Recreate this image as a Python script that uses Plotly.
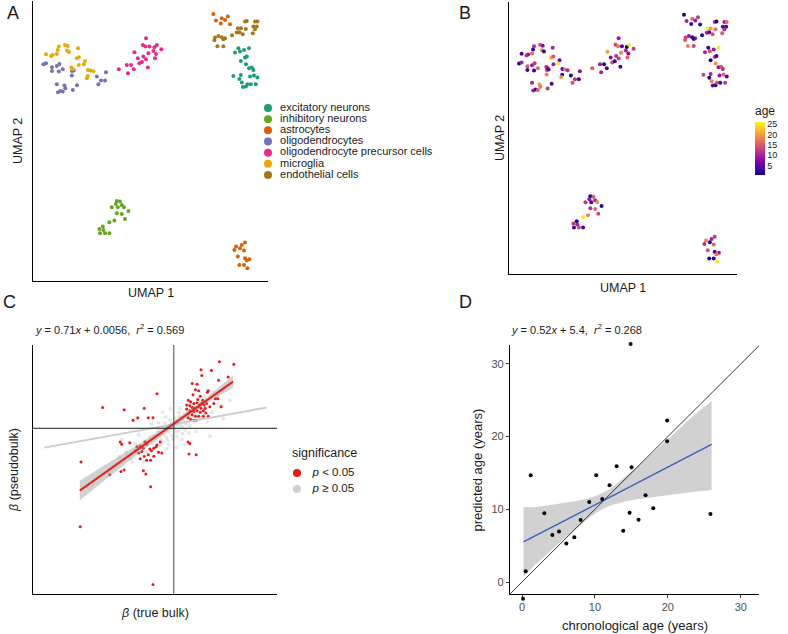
import plotly.graph_objects as go

W, H = 788, 634

# ---- panel A / B : UMAP of cells (same embedding, coloured by type / by age)
cell_types = ['excitatory neurons', 'inhibitory neurons', 'astrocytes', 'oligodendrocytes',
              'oligodendrocyte precursor cells', 'microglia', 'endothelial cells']
cell_colors = ['#1B9E77', '#66A61E', '#D95F02', '#7570B3', '#E7298A', '#E6AB02', '#A6761D']

exc_u1 = [10.10, 10.27, 10.35, 10.55, 10.80, 10.39, 10.60, 10.69, 10.65, 10.80, 10.94, 11.02,
          10.02, 10.32, 10.39, 10.44, 10.64, 10.72, 10.85, 10.89, 11.05, 11.14, 11.22, 10.50]
exc_u2 = [11.42, 11.64, 11.47, 11.55, 11.64, 11.00, 11.17, 11.22, 10.84, 10.64, 10.67, 10.55,
          10.25, 10.10, 10.30, 9.92, 9.72, 9.84, 10.22, 9.84, 10.27, 9.84, 10.17, 9.70]
exc_age = [10, 2, 14, 9, 25, 1, 12, 3, 19, 8, 15, 11, 13, 2, 10, 18, 1, 14, 9, 3, 16, 12, 4, 6]

inh_u1 = [4.19, 4.35, 4.14, 3.94, 4.24, 4.44, 4.55, 4.77, 4.19, 4.44, 4.60, 4.07, 3.82, 3.49,
          3.32, 3.35, 3.60, 3.82, 3.52]
inh_u2 = [4.00, 3.97, 3.85, 3.69, 3.69, 3.80, 3.69, 3.50, 3.39, 3.35, 3.10, 3.02, 2.94, 2.72,
          2.60, 2.39, 2.39, 2.39, 2.55]
inh_age = [1, 15, 9, 12, 3, 10, 19, 2, 11, 16, 13, 18, 25, 1, 12, 3, 14, 4, 10]

ast_u1 = [9.02, 9.15, 9.39, 9.44, 9.60, 9.74, 9.85,
          10.60, 10.44, 10.15, 10.35, 10.55, 10.07, 10.24, 10.60, 10.82, 10.69, 10.32, 10.55, 10.72]
ast_u2 = [13.35, 13.02, 12.87, 13.14, 13.05, 13.22, 12.84,
          1.92, 1.80, 1.72, 1.64, 1.52, 1.55, 1.22, 1.14, 1.09, 1.02, 0.80, 0.80, 0.64]
ast_age = [1, 10, 3, 16, 9, 12, 2,
           12, 10, 18, 2, 16, 11, 14, 3, 9, 17, 1, 2, 25]

oli_u1 = [0.52, 0.65, 0.95, 0.95, 1.19, 1.32, 1.29, 1.49, 1.95, 2.04, 1.94, 3.19, 3.65, 3.40,
          3.60, 3.27, 1.19, 1.57, 1.62, 1.37, 1.25, 1.49, 1.99, 2.20]
oli_u2 = [10.84, 10.89, 10.69, 10.50, 10.75, 10.85, 10.47, 10.59, 10.50, 10.52, 10.27, 10.22,
          10.44, 10.02, 10.02, 9.84, 9.84, 9.77, 9.64, 9.50, 9.44, 9.47, 9.55, 9.79]
oli_age = [1, 10, 15, 3, 9, 12, 2, 16, 13, 5, 18, 1, 8, 11, 3, 14, 10, 20, 17, 2, 9, 15, 12, 4]

opc_u1 = [4.29, 4.69, 4.90, 4.75, 5.04, 5.07, 5.24, 5.32, 5.45, 5.52, 5.49, 5.62, 5.65, 5.82,
          5.77, 5.65, 6.02, 6.07, 6.19, 6.15, 6.10, 5.74, 6.42]
opc_u2 = [10.59, 10.80, 10.80, 10.39, 10.59, 11.44, 11.14, 10.89, 10.95, 11.22, 11.80, 11.72,
          12.14, 11.72, 11.39, 11.09, 11.50, 11.69, 11.80, 11.35, 11.14, 10.67, 11.59]
opc_age = [15, 9, 1, 10, 3, 20, 8, 14, 2, 11, 13, 17, 9, 4, 18, 12, 10, 1, 25, 7, 16, 3, 12]

mic_u1 = [0.65, 0.90, 0.99, 1.19, 1.24, 1.29, 1.60, 1.74, 1.70, 1.80, 2.25, 2.19, 2.29, 2.60,
          2.54, 2.29, 1.92, 2.75, 2.87, 3.02, 2.74, 2.69, 1.99]
mic_u2 = [11.34, 11.25, 11.30, 11.35, 11.55, 11.72, 11.80, 11.75, 11.52, 11.45, 11.64, 11.14,
          11.19, 11.00, 10.84, 10.80, 10.67, 10.55, 10.52, 10.49, 10.25, 10.14, 10.59]
mic_age = [3, 12, 9, 16, 2, 11, 14, 8, 18, 1, 10, 20, 15, 6, 25, 9, 13, 4, 17, 11, 2, 19, 7]

end_u1 = [9.10, 9.07, 9.27, 9.44, 9.60, 9.52, 9.22, 9.52, 9.95, 10.19, 10.24, 10.40, 10.32,
          10.49, 10.60, 10.69, 10.64, 11.02, 10.99, 11.10, 11.22, 11.19, 11.10]
end_u2 = [12.17, 12.04, 12.25, 12.19, 12.14, 12.09, 11.74, 11.74, 12.29, 12.42, 12.64, 12.64,
          12.44, 12.34, 12.97, 13.00, 12.60, 12.72, 12.39, 12.97, 12.97, 12.72, 12.59]
end_age = [12, 15, 9, 1, 11, 3, 18, 13, 2, 10, 25, 20, 5, 14, 12, 1, 17, 4, 15, 9, 16, 3, 11]

umap_range_x = [0, 11.75]
umap_range_y = [0, 14.0]

# ---- panel C : beta true bulk vs pseudobulk
sig_beta_bulk = [0.057, 0.075, 0.034, 0.047, 0.035, 0.056, 0.068, -0.089, -0.062, -0.037, -0.021,
                 -0.045, -0.051, -0.032, -0.026, -0.067, -0.065, -0.055, -0.062, -0.066, -0.080,
                 -0.116, -0.117, -0.026, -0.029, -0.035, -0.038, 0.018, 0.020, 0.028, 0.019,
                 0.043, 0.042, 0.052, 0.055, 0.059, 0.043, 0.037,
                 0.023, 0.029, 0.027, 0.031, 0.024, 0.033, 0.018, 0.021, 0.025, 0.029, 0.035,
                 0.038, 0.020, 0.023, 0.026, 0.031, 0.034, 0.016, 0.020, 0.025, 0.029, 0.033,
                 0.037, 0.018, 0.023, 0.027, 0.031, 0.021, 0.025, 0.016, 0.030, 0.036, 0.041,
                 0.045, 0.050, 0.039, 0.040, 0.028, 0.018, 0.032,
                 -0.046, -0.042, -0.038, -0.034, -0.030, -0.028, -0.025, -0.022, -0.019, -0.015,
                 -0.032, -0.037, -0.044, -0.042, -0.034, -0.029, -0.025, -0.048, -0.040, -0.021,
                 -0.017, -0.036]
sig_beta_pseudo = [0.083, 0.080, 0.073, 0.072, 0.066, 0.060, 0.064, 0.026, 0.023, 0.025, 0.043,
                   0.013, 0.010, 0.013, 0.013, -0.017, -0.020, -0.018, -0.052, -0.054, -0.058,
                   -0.042, -0.123, -0.195, -0.073, -0.057, -0.053, -0.017, -0.019, -0.033, -0.032,
                   0.047, 0.045, 0.037, 0.037, 0.027, 0.015, 0.015,
                   0.056, 0.055, 0.048, 0.047, 0.042, 0.040, 0.035, 0.033, 0.031, 0.032, 0.031,
                   0.029, 0.028, 0.026, 0.025, 0.027, 0.025, 0.024, 0.022, 0.021, 0.022, 0.020,
                   0.022, 0.018, 0.017, 0.015, 0.015, 0.011, 0.010, 0.029, 0.036, 0.035, 0.031,
                   0.027, 0.031, 0.025, 0.019, 0.010, 0.013, 0.029,
                   -0.023, -0.022, -0.025, -0.020, -0.026, -0.028, -0.025, -0.023, -0.030, -0.031,
                   -0.033, -0.035, -0.031, -0.038, -0.040, -0.040, -0.035, -0.028, -0.029, -0.021,
                   -0.017, -0.017]

ns_beta_bulk = [0.000, 0.005, -0.004, 0.008, -0.007, 0.002, -0.003, 0.010, -0.010, 0.006, -0.006,
                0.012, -0.012, 0.003, -0.002, 0.015, -0.015, 0.009, -0.009, 0.014, -0.014, 0.001,
                -0.001, 0.018, -0.018, 0.007, -0.008, 0.011, -0.011, 0.004, -0.005, 0.016, -0.016,
                0.020, -0.020, 0.013, -0.013, 0.022, -0.022, 0.006, -0.007, 0.019, -0.019, 0.025,
                -0.025, 0.017, -0.017, 0.027, -0.026, 0.010, -0.010, 0.030, -0.030, 0.024, -0.024,
                0.033, -0.032, 0.008, -0.009, 0.028, -0.028, 0.036, -0.036, 0.020, -0.020, 0.040,
                -0.040, 0.014, -0.014, 0.042, -0.044, 0.003, -0.004, 0.035, -0.035, 0.048, -0.048,
                0.055, -0.055, 0.060, -0.060, 0.050, -0.052, 0.045, -0.046, 0.062, -0.065, 0.038,
                -0.038, 0.070, -0.068]
ns_beta_pseudo = [0.000, 0.003, -0.002, 0.006, -0.005, -0.004, 0.005, 0.002, -0.001, -0.003, 0.003,
                  0.009, -0.008, 0.008, -0.009, 0.005, -0.006, 0.012, -0.012, -0.002, 0.002, 0.012,
                  -0.013, 0.010, -0.010, 0.015, -0.015, -0.007, 0.007, -0.010, 0.010, 0.014, -0.014,
                  0.003, -0.003, 0.018, -0.017, 0.015, -0.014, 0.020, -0.020, -0.006, 0.007, 0.008,
                  -0.009, 0.022, -0.021, 0.018, -0.018, -0.014, 0.014, 0.012, -0.011, 0.026, -0.024,
                  0.022, -0.020, 0.025, -0.026, -0.004, 0.005, 0.015, -0.016, 0.030, -0.030, 0.025,
                  -0.024, -0.020, 0.020, 0.008, -0.008, -0.024, 0.024, 0.032, -0.030, 0.020, -0.020,
                  0.040, -0.038, 0.028, -0.030, 0.045, -0.042, -0.010, 0.012, 0.012, -0.014, 0.040,
                  -0.042, 0.035, -0.036]

sig_fit = [0.71, 0.0056]          # slope, intercept (significant genes)
all_fit = [0.18, 0.005]           # slope, intercept (all genes)
sig_fit_x = [-0.1175, 0.0741]
all_fit_x = [-0.162, 0.116]
ribbon_x = [-0.1175, -0.09, -0.06, -0.03, 0.0, 0.03, 0.05, 0.0741]
ribbon_lo = [-0.0899, -0.0678, -0.0440, -0.0205, 0.0021, 0.0239, 0.0366, 0.0505]
ribbon_hi = [-0.0657, -0.0488, -0.0300, -0.0109, 0.0091, 0.0299, 0.0456, 0.0659]
beta_range_x = [-0.176, 0.129]
beta_range_y = [-0.207, 0.104]
sig_labels = ['<i>p</i> < 0.05', '<i>p</i> ≥ 0.05']

# ---- panel D : chronological vs predicted age
chron_age = [0.14, 0.5, 1.19, 3.06, 4.16, 5.07, 6.07, 7.17, 8.04, 9.22, 10.18, 11.0, 12.0,
             12.97, 13.88, 14.75, 14.89, 15.02, 15.98, 16.94, 18.0, 19.9, 19.9, 25.84]
pred_age = [-2.3, 1.47, 14.7, 9.45, 6.47, 6.93, 5.28, 6.15, 8.53, 11.0, 14.68, 11.42, 13.3,
            15.92, 7.06, 9.54, 32.75, 15.78, 8.58, 11.93, 10.14, 22.2, 19.36, 9.36]
age_fit = [0.52, 5.4]
age_fit_x = [0.2, 26.0]
band_x = [0.2, 1.5, 3, 4.5, 6, 7.5, 9, 10, 11, 12, 13, 14.5, 16, 17.5, 19, 20.5, 22, 24, 26]
band_lo = [0.7, 2.07, 3.45, 4.81, 6.15, 7.46, 8.68, 9.41, 10.02, 10.48, 10.81, 11.16, 11.42,
           11.64, 11.84, 12.03, 12.21, 12.45, 12.65]
band_hi = [10.3, 10.29, 10.47, 10.67, 10.89, 11.14, 11.48, 11.79, 12.22, 12.80, 13.51, 14.72,
           16.02, 17.36, 18.72, 20.09, 21.47, 23.31, 24.9]
age_range_x = [-1.65, 32.5]
age_range_y = [-1.65, 32.6]
age_ticks = [0, 10, 20, 30]


def px(x):
    return x / W


def py(y):
    return 1 - y / H


FONT = 'Liberation Sans, Arial, sans-serif'
INK = '#1a1a1a'

cells = [
    (exc_u1, exc_u2, exc_age),
    (inh_u1, inh_u2, inh_age),
    (ast_u1, ast_u2, ast_age),
    (oli_u1, oli_u2, oli_age),
    (opc_u1, opc_u2, opc_age),
    (mic_u1, mic_u2, mic_age),
    (end_u1, end_u2, end_age),
]

fig = go.Figure()

# A: cell types
for name, col, (u1, u2, _) in zip(cell_types, cell_colors, cells):
    fig.add_trace(go.Scatter(x=u1, y=u2, mode='markers', name=name, showlegend=False,
                             marker=dict(color=col, size=4), xaxis='x', yaxis='y'))

# legend of A drawn on its own little axis
fig.add_trace(go.Scatter(x=[0] * len(cell_types), y=cell_types, mode='markers+text',
                         text=['  ' + c for c in cell_types], textposition='middle right',
                         textfont=dict(size=11, color=INK), cliponaxis=False, showlegend=False,
                         marker=dict(color=cell_colors, size=8), xaxis='x5', yaxis='y5'))

# B: age
all_u1 = [v for c in cells for v in c[0]]
all_u2 = [v for c in cells for v in c[1]]
all_age = [v for c in cells for v in c[2]]
fig.add_trace(go.Scatter(x=all_u1, y=all_u2, mode='markers', showlegend=False,
                         marker=dict(color=all_age, colorscale='Plasma', cmin=0.5, cmax=26, size=4,
                                     colorbar=dict(x=px(755), xanchor='left', xpad=0,
                                                   y=py(139), yanchor='middle', ypad=0,
                                                   len=72, lenmode='pixels',
                                                   thickness=10, thicknessmode='pixels',
                                                   outlinewidth=0, ticks='',
                                                   tickvals=[5, 10, 15, 20, 25],
                                                   tickfont=dict(size=9, color=INK),
                                                   title=dict(text='age', side='top',
                                                              font=dict(size=12, color=INK)))),
                         xaxis='x2', yaxis='y2'))

# C: betas
fig.add_trace(go.Scatter(x=ns_beta_bulk, y=ns_beta_pseudo, mode='markers', showlegend=False,
                         marker=dict(color='#d4d4d4', size=4, opacity=0.55),
                         xaxis='x3', yaxis='y3'))
fig.add_trace(go.Scatter(x=sig_beta_bulk, y=sig_beta_pseudo, mode='markers', showlegend=False,
                         marker=dict(color='#E41A1C', size=3), cliponaxis=False,
                         xaxis='x3', yaxis='y3'))
fig.add_trace(go.Scatter(x=all_fit_x, y=[all_fit[0] * v + all_fit[1] for v in all_fit_x],
                         mode='lines', showlegend=False, line=dict(color='#cccccc', width=2),
                         xaxis='x3', yaxis='y3'))
fig.add_trace(go.Scatter(x=ribbon_x + ribbon_x[::-1], y=ribbon_hi + ribbon_lo[::-1],
                         fill='toself', mode='lines', line=dict(width=0), showlegend=False,
                         fillcolor='rgba(153,153,153,0.45)', xaxis='x3', yaxis='y3'))
fig.add_trace(go.Scatter(x=sig_fit_x, y=[sig_fit[0] * v + sig_fit[1] for v in sig_fit_x],
                         mode='lines', showlegend=False, line=dict(color='#E3261A', width=2),
                         xaxis='x3', yaxis='y3'))

# legend of C
fig.add_trace(go.Scatter(x=[0, 0], y=sig_labels, mode='markers+text',
                         text=['   ' + s for s in sig_labels], textposition='middle right',
                         textfont=dict(size=11.5, color=INK), cliponaxis=False, showlegend=False,
                         marker=dict(color=['#E41A1C', '#cfcfcf'], size=8),
                         xaxis='x6', yaxis='y6'))

# D: age prediction
fig.add_trace(go.Scatter(x=band_x + band_x[::-1], y=band_hi + band_lo[::-1], fill='toself',
                         mode='lines', line=dict(width=0), showlegend=False,
                         fillcolor='rgba(153,153,153,0.45)', xaxis='x4', yaxis='y4'))
fig.add_trace(go.Scatter(x=age_range_x, y=age_range_x, mode='lines', showlegend=False,
                         line=dict(color='black', width=0.8), xaxis='x4', yaxis='y4'))
fig.add_trace(go.Scatter(x=age_fit_x, y=[age_fit[0] * v + age_fit[1] for v in age_fit_x],
                         mode='lines', showlegend=False, line=dict(color='#3F5FBF', width=1.4),
                         xaxis='x4', yaxis='y4'))

# points of D go on a twin axis pair with the same scale but a few px more room,
# so the two samples just past the axis limits are still drawn (ggplot clip off)
pad = 10
d_x0, d_x1, d_y0, d_y1 = 510, 759, 345, 594
sx = (age_range_x[1] - age_range_x[0]) / (d_x1 - d_x0)
sy = (age_range_y[1] - age_range_y[0]) / (d_y1 - d_y0)
fig.add_trace(go.Scatter(x=chron_age, y=pred_age, mode='markers', showlegend=False,
                         marker=dict(color='black', size=4), cliponaxis=False,
                         xaxis='x7', yaxis='y7'))

blank = dict(showgrid=False, zeroline=False, showticklabels=False, ticks='', showline=False)
frame = dict(showgrid=False, zeroline=False, showticklabels=False, ticks='', showline=True,
             linecolor='black', linewidth=1.3)
age_ax = dict(showgrid=False, zeroline=False, showline=True, linecolor='black', linewidth=1.3,
              ticks='outside', ticklen=3, tickcolor='#333', tickvals=age_ticks,
              tickfont=dict(size=11, color='#4d4d4d'))

fig.update_layout(
    width=W, height=H, margin=dict(l=0, r=0, t=0, b=0),
    paper_bgcolor='white', plot_bgcolor='rgba(0,0,0,0)', template='none',
    font=dict(family=FONT, color=INK), showlegend=False,
    xaxis=dict(frame, domain=[px(33), px(268)], range=umap_range_x, anchor='y'),
    yaxis=dict(frame, domain=[py(281), py(1)], range=umap_range_y, anchor='x'),
    xaxis2=dict(frame, domain=[px(509), px(737)], range=umap_range_x, anchor='y2'),
    yaxis2=dict(frame, domain=[py(274), py(2)], range=umap_range_y, anchor='x2'),
    xaxis3=dict(frame, domain=[px(33), px(277)], range=beta_range_x, anchor='y3'),
    yaxis3=dict(frame, domain=[py(594), py(345)], range=beta_range_y, anchor='x3'),
    xaxis4=dict(age_ax, domain=[px(d_x0), px(d_x1)], range=age_range_x, anchor='y4'),
    yaxis4=dict(age_ax, domain=[py(d_y1), py(d_y0)], range=age_range_y, anchor='x4'),
    xaxis5=dict(blank, domain=[px(263), px(273)], range=[-1, 1], anchor='y5'),
    yaxis5=dict(blank, domain=[py(180.5), py(102.5)], type='category', anchor='x5',
                categoryorder='array', categoryarray=cell_types, range=[6.5, -0.5]),
    xaxis6=dict(blank, domain=[px(292), px(302)], range=[-1, 1], anchor='y6'),
    yaxis6=dict(blank, domain=[py(497), py(465)], type='category', anchor='x6',
                categoryorder='array', categoryarray=sig_labels, range=[1.5, -0.5]),
    xaxis7=dict(blank, domain=[px(d_x0 - pad), px(d_x1 + pad)], anchor='y7',
                range=[age_range_x[0] - pad * sx, age_range_x[1] + pad * sx]),
    yaxis7=dict(blank, domain=[py(d_y1 + pad), py(d_y0 - pad)], anchor='x7',
                range=[age_range_y[0] - pad * sy, age_range_y[1] + pad * sy]),
)

# reference lines at zero in C
fig.add_shape(type='line', xref='x3', yref='y3 domain', x0=0, x1=0, y0=0, y1=1,
              line=dict(color='#444', width=1))
fig.add_shape(type='line', xref='x3 domain', yref='y3', x0=0, x1=1, y0=0, y1=0,
              line=dict(color='#1a1a1a', width=1))


def note(text, x, y, size, angle=0, anchor='center'):
    fig.add_annotation(text=text, x=px(x), y=py(y), xref='paper', yref='paper',
                       showarrow=False, textangle=angle, xanchor=anchor, yanchor='middle',
                       font=dict(size=size, color=INK, family=FONT))


note('A', 13, 13, 18)
note('B', 465, 13, 18)
note('C', 9, 302, 18)
note('D', 465, 302, 18)
note('UMAP 1', 150.5, 293, 12.5)
note('UMAP 2', 18, 141, 12.5, -90)
note('UMAP 1', 623, 288, 12.5)
note('UMAP 2', 500, 138, 12.5, -90)
note('<i>y</i> = 0.71<i>x</i> + 0.0056,  <i>r</i><sup>2</sup> = 0.569', 33, 329, 11, anchor='left')
note('<i>y</i> = 0.52<i>x</i> + 5.4,  <i>r</i><sup>2</sup> = 0.268', 509, 329, 11, anchor='left')
note('<i>β</i> (true bulk)', 155, 613, 12.5)
note('<i>β</i> (pseudobulk)', 14, 470, 12.5, -90)
note('chronological age (years)', 634.5, 625, 13)
note('predicted age (years)', 477, 469.5, 13, -90)
note('significance', 290, 453, 12.5, anchor='left')

# page body has a default 8px margin; drop it so the figure sits at the corner
fig.write_html("out.html", config={'displayModeBar': False},
               post_script="document.body.style.margin='0';")
